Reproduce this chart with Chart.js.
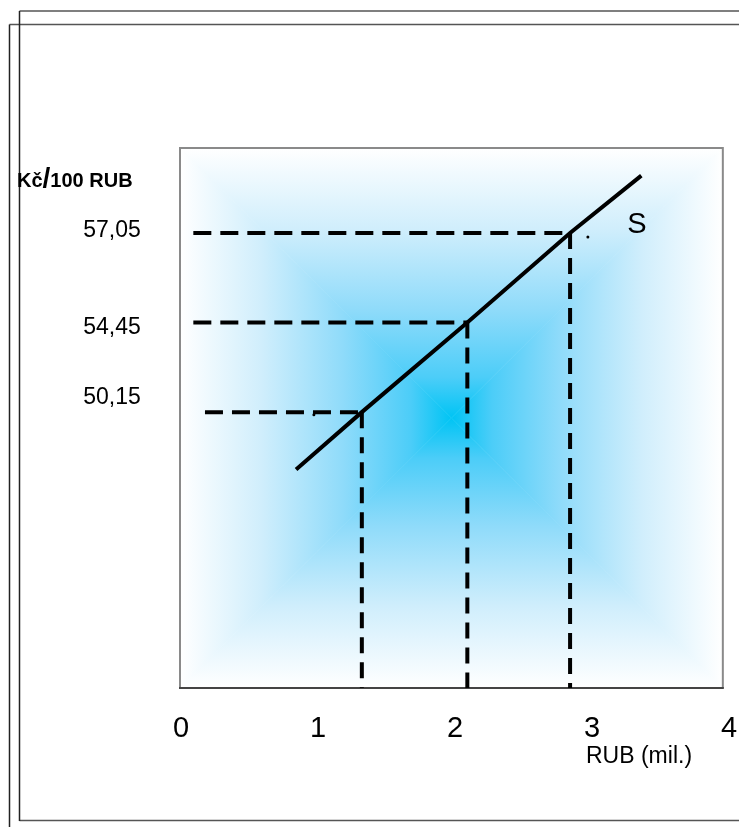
<!DOCTYPE html>
<html>
<head>
<meta charset="utf-8">
<script src="https://cdn.jsdelivr.net/npm/chart.js@4/dist/chart.umd.min.js"></script>
<style>
  html, body { margin: 0; padding: 0; background: #fff; }
  #wrap { width: 739px; height: 827px; position: relative; }
</style>
</head>
<body>
<div id="wrap"><canvas id="supplyChart"></canvas></div>
<script>
// ── DATA ─────────────────────────────
const xTicks = [0, 1, 2, 3, 4];
const priceLabels = ["50,15", "54,45", "57,05"];   // Kč / 100 RUB
const priceLevels = [1, 2, 3];                      // vertical position of each price
const quantities = [1.32, 2.09, 2.84];              // RUB (mil.) at each price
const supplyX = [0.84, 1.32, 2.09, 2.84, 3.36];
const supplyY = [0.36, 1, 2, 3, 3.64];
const dashStartX = [0.175, 0.09, 0.09];             // where the horizontal guides begin
const strayDotsX = [0.97, 2.97];
const strayDotsY = [0.97, 2.955];

const yMin = -2.08, yMax = 3.96;
const boxXMax = 3.955;

// ── DATASETS ─────────────────────────────
const datasets = [];

datasets.push({
  label: "S",
  data: supplyX.map((x, i) => ({ x: x, y: supplyY[i] })),
  showLine: true,
  borderColor: "#000",
  borderWidth: 4,
  pointRadius: 0,
  borderCapStyle: "butt",
  order: 0
});

priceLevels.forEach((lvl, i) => {
  // horizontal guide
  datasets.push({
    data: [{ x: dashStartX[i], y: lvl }, { x: quantities[i], y: lvl }],
    showLine: true,
    borderColor: "#000",
    borderWidth: 4,
    borderDash: [18, 9],
    pointRadius: 0,
    order: 1
  });
  // vertical guide
  datasets.push({
    data: [{ x: quantities[i], y: lvl }, { x: quantities[i], y: yMin }],
    showLine: true,
    borderColor: "#000",
    borderWidth: 4,
    borderDash: [16, 9],
    pointRadius: 0,
    order: 1
  });
});

datasets.push({
  data: strayDotsX.map((x, i) => ({ x: x, y: strayDotsY[i] })),
  showLine: false,
  pointRadius: 1.5,
  pointBackgroundColor: "#000",
  pointBorderWidth: 0,
  order: 2
});

// ── PLUGINS ─────────────────────────────
const boxBackground = {
  id: "boxBackground",
  beforeDatasetsDraw(chart) {
    const ctx = chart.ctx;
    const xs = chart.scales.x, area = chart.chartArea;
    const L = xs.getPixelForValue(0) - 1, R = xs.getPixelForValue(boxXMax);
    const T = area.top + 1, B = area.bottom;
    const cx = (L + R) / 2, cy = (T + B) / 2;

    const stops = [[0, "#00c4f4"], [0.15, "#4ccdf8"], [0.4, "#8fdbfa"], [0.7, "#d0eefc"], [1, "#ffffff"]];
    const tris = [
      [[L, T], [R, T], cx, T],
      [[R, T], [R, B], R, cy],
      [[R, B], [L, B], cx, B],
      [[L, B], [L, T], L, cy]
    ];
    ctx.save();
    tris.forEach(t => {
      const g = ctx.createLinearGradient(cx, cy, t[2], t[3]);
      stops.forEach(s => g.addColorStop(s[0], s[1]));
      ctx.beginPath();
      ctx.moveTo(cx, cy);
      ctx.lineTo(t[0][0], t[0][1]);
      ctx.lineTo(t[1][0], t[1][1]);
      ctx.closePath();
      ctx.fillStyle = g;
      ctx.fill();
      ctx.strokeStyle = g;
      ctx.lineWidth = 0.6;
      ctx.stroke();
    });

    // box border
    ctx.lineWidth = 2;
    ctx.strokeStyle = "#8a8a8a";
    ctx.beginPath();
    ctx.moveTo(L, B);
    ctx.lineTo(L, T);
    ctx.lineTo(R, T);
    ctx.lineTo(R, B);
    ctx.stroke();
    ctx.strokeStyle = "#444";
    ctx.beginPath();
    ctx.moveTo(L - 1, B);
    ctx.lineTo(R + 1, B);
    ctx.stroke();
    ctx.restore();
  },
  afterDraw(chart) {
    const ctx = chart.ctx;
    const xs = chart.scales.x, ys = chart.scales.y;
    ctx.save();

    // outer frames
    ctx.lineWidth = 1.5;
    ctx.strokeStyle = "#555";
    ctx.beginPath();
    ctx.moveTo(19.5, 11); ctx.lineTo(739, 11);
    ctx.moveTo(9.5, 24.5); ctx.lineTo(739, 24.5);
    ctx.moveTo(19.5, 820.5); ctx.lineTo(739, 820.5);
    ctx.stroke();
    ctx.strokeStyle = "#222";
    ctx.beginPath();
    ctx.moveTo(19.5, 11); ctx.lineTo(19.5, 821);
    ctx.moveTo(9.5, 24.5); ctx.lineTo(9.5, 827);
    ctx.stroke();

    // x tick labels
    ctx.fillStyle = "#000";
    ctx.textAlign = "center";
    ctx.textBaseline = "middle";
    ctx.font = "29px Arial, 'Liberation Sans', sans-serif";
    xTicks.forEach(v => ctx.fillText(String(v), xs.getPixelForValue(v), 729));

    // y price labels (slightly offset from their guides, as in the drawing)
    const labelShift = [-14, 5, -2];
    ctx.font = "23px Arial, 'Liberation Sans', sans-serif";
    priceLevels.forEach((lvl, i) => {
      ctx.fillText(priceLabels[i], 112, ys.getPixelForValue(lvl) + labelShift[i]);
    });

    // axis titles
    ctx.textAlign = "left";
    ctx.font = "23px Arial, 'Liberation Sans', sans-serif";
    ctx.fillText("RUB (mil.)", 586, 757);

    ctx.font = "bold 20px Arial, 'Liberation Sans', sans-serif";
    let x = 17;
    ctx.fillText("Kč", x, 181);
    x += ctx.measureText("Kč").width;
    ctx.font = "bold 28px Arial, 'Liberation Sans', sans-serif";
    ctx.fillText("/", x, 179);
    x += ctx.measureText("/").width;
    ctx.font = "bold 20px Arial, 'Liberation Sans', sans-serif";
    ctx.fillText("100 RUB", x, 181);

    // curve label
    ctx.textAlign = "center";
    ctx.font = "29px Arial, 'Liberation Sans', sans-serif";
    ctx.fillText("S", 637, 225);
    ctx.restore();
  }
};

// ── CHART ─────────────────────────────
new Chart(document.getElementById("supplyChart").getContext("2d"), {
  type: "scatter",
  data: { datasets: datasets },
  options: {
    responsive: true,
    maintainAspectRatio: false,
    animation: false,
    layout: { padding: { left: 181, right: 10, top: 147, bottom: 139 } },
    plugins: { legend: { display: false }, tooltip: { enabled: false } },
    scales: {
      x: { type: "linear", min: 0, max: 4, display: false },
      y: { type: "linear", min: yMin, max: yMax, display: false }
    }
  },
  plugins: [boxBackground]
});
</script>
</body>
</html>
